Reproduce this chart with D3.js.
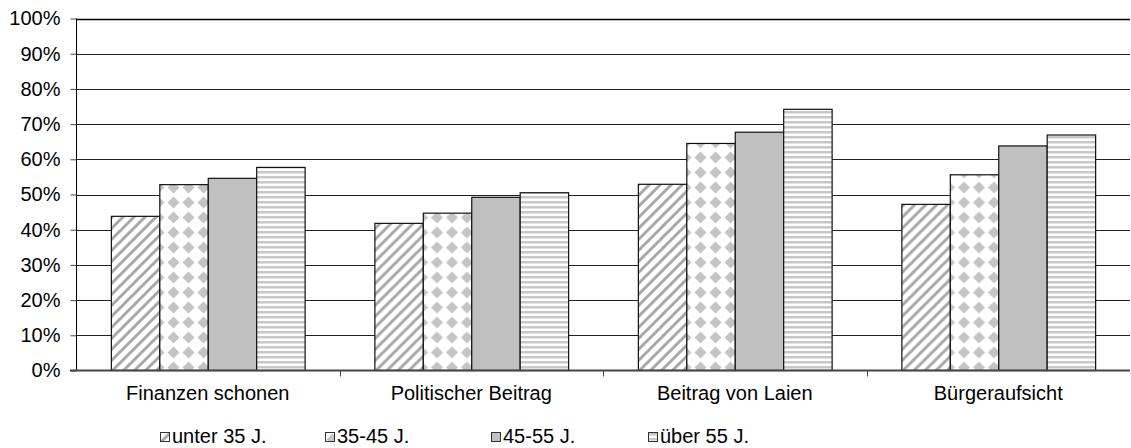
<!DOCTYPE html>
<html>
<head>
<meta charset="utf-8">
<script src="https://cdn.jsdelivr.net/npm/d3@7"></script>
<style>
  body { margin: 0; background: #fff; }
  text { font-family: "Liberation Sans", Arial, sans-serif; }
</style>
</head>
<body>
<div id="chart"></div>
<script>
const categories = ["Finanzen schonen", "Politischer Beitrag", "Beitrag von Laien", "Bürgeraufsicht"];
const seriesNames = ["unter 35 J.", "35-45 J.", "45-55 J.", "über 55 J."];
const unter35 = [43.8, 41.8, 52.9, 47.2];
const j35bis45 = [52.8, 44.7, 64.5, 55.6];
const j45bis55 = [54.6, 49.2, 67.7, 63.8];
const ueber55 = [57.7, 50.5, 74.2, 66.9];
const yTicks = [0, 10, 20, 30, 40, 50, 60, 70, 80, 90, 100];

const allSeries = [unter35, j35bis45, j45bis55, ueber55];

const wSvg = 1131;
const hSvg = 448;
const xLeft = 76, xRight = 1130, yTop = 18.5, yBottom = 370.5;
const fontSize = 20;

const svg = d3.select("#chart")
    .append("svg")
    .attr("width", wSvg)
    .attr("height", hSvg);

// patterns
const defs = svg.append("defs");
const diag = defs.append("pattern").attr("id", "p0")
    .attr("patternUnits", "userSpaceOnUse").attr("width", 11).attr("height", 11);
diag.append("rect").attr("width", 11).attr("height", 11).attr("fill", "#fff");
diag.append("path").attr("d", "M-2,13 L13,-2 M-5,5 L5,-5 M6,16 L16,6")
    .attr("stroke", "#a8a8a8").attr("stroke-width", 3);

const dia = defs.append("pattern").attr("id", "p1")
    .attr("patternUnits", "userSpaceOnUse").attr("width", 15).attr("height", 15);
dia.append("rect").attr("width", 15).attr("height", 15).attr("fill", "#fff");
dia.append("path").attr("d", "M7.5,1.5 L13.5,7.5 L7.5,13.5 L1.5,7.5 Z").attr("fill", "#c4c4c4");

const solid = defs.append("pattern").attr("id", "p2")
    .attr("patternUnits", "userSpaceOnUse").attr("width", 4).attr("height", 4);
solid.append("rect").attr("width", 4).attr("height", 4).attr("fill", "#c0c0c0");

const horiz = defs.append("pattern").attr("id", "p3")
    .attr("patternUnits", "userSpaceOnUse").attr("width", 4).attr("height", 5);
horiz.append("rect").attr("width", 4).attr("height", 5).attr("fill", "#fff");
horiz.append("rect").attr("y", 1).attr("width", 4).attr("height", 2.5).attr("fill", "#c8c8c8");

// Scales
const xScale = d3.scaleBand(categories, [xLeft, xRight]).padding(0);
const xInner = d3.scaleBand(d3.range(4), [0, xScale.bandwidth()])
    .paddingInner(0).paddingOuter(0.72);
const yScale = d3.scaleLinear([0, 100], [yBottom, yTop]);

// grid lines
svg.append("g")
    .selectAll("line")
    .data(yTicks.filter(t => t > 0))
    .enter()
    .append("line")
    .attr("x1", xLeft).attr("x2", xRight)
    .attr("y1", d => Math.round(yScale(d)) + 0.5)
    .attr("y2", d => Math.round(yScale(d)) + 0.5)
    .attr("stroke", d => d == 100 ? "#000" : "#222")
    .attr("stroke-width", d => d == 100 ? 1.5 : 1);

// y axis
const yAxis = svg.append("g")
    .attr("transform", `translate(${xLeft + 0.5}, 0)`)
    .call(d3.axisLeft(yScale).tickValues(yTicks).tickSize(6).tickPadding(10)
        .tickFormat(d => d + "%"));
yAxis.select(".domain").attr("stroke", "#000").attr("d", `M0,${yTop}V${yBottom}`);
yAxis.selectAll(".tick line").attr("stroke", "#444");
yAxis.selectAll("text").attr("font-size", fontSize).attr("fill", "#000")
    .attr("font-family", "Liberation Sans, Arial, sans-serif");

// Bars
const groups = svg.append("g")
    .selectAll("g")
    .data(categories)
    .enter()
    .append("g")
    .attr("transform", d => `translate(${xScale(d)}, 0)`);

groups.selectAll("rect")
    .data((c, ci) => allSeries.map((s, si) => ({ si: si, v: s[ci] })))
    .enter()
    .append("rect")
    .attr("x", d => xInner(d.si) + 0.5)
    .attr("y", d => yScale(d.v))
    .attr("width", xInner.bandwidth())
    .attr("height", d => yBottom - yScale(d.v))
    .attr("fill", d => `url(#p${d.si})`)
    .attr("stroke", "#111")
    .attr("stroke-width", 1.2);

// x axis
const xAxis = svg.append("g")
    .attr("transform", `translate(0, ${yBottom})`)
    .call(d3.axisBottom(xScale).tickSize(0).tickPadding(15));
xAxis.select(".domain").attr("stroke", "#444").attr("stroke-width", 2)
    .attr("d", `M${xLeft - 6},0H${xRight}`);
xAxis.selectAll("text").attr("font-size", fontSize).attr("fill", "#000")
    .attr("font-family", "Liberation Sans, Arial, sans-serif");
svg.append("g")
    .selectAll("line")
    .data(categories.slice(1))
    .enter()
    .append("line")
    .attr("x1", d => Math.round(xScale(d)) + 0.5)
    .attr("x2", d => Math.round(xScale(d)) + 0.5)
    .attr("y1", yBottom).attr("y2", yBottom + 6)
    .attr("stroke", "#444");

// legend
const legendX = [160, 325, 491, 648];
const legend = svg.append("g")
    .selectAll("g")
    .data(seriesNames)
    .enter()
    .append("g")
    .attr("transform", (d, i) => `translate(${legendX[i]}, 432)`);
legend.append("rect")
    .attr("x", 0.5).attr("y", 0.5).attr("width", 9).attr("height", 9)
    .attr("fill", (d, i) => `url(#p${i})`)
    .attr("stroke", "#333");
legend.append("text")
    .attr("x", 12).attr("y", 11)
    .attr("font-size", fontSize)
    .text(d => d);
</script>
</body>
</html>
